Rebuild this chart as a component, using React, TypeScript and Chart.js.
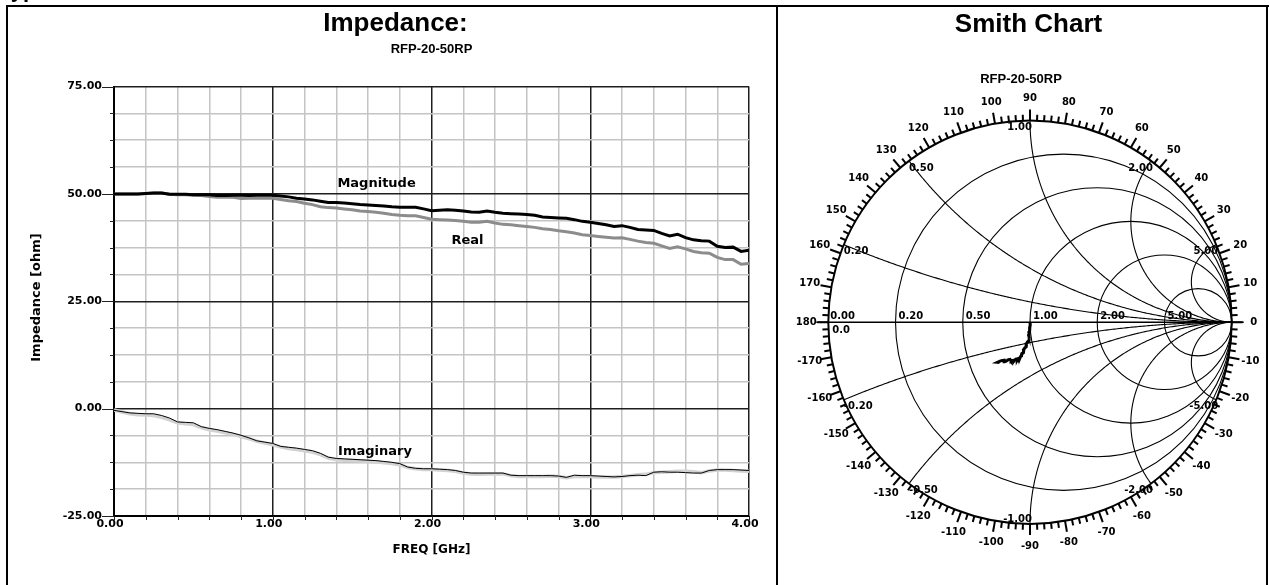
import React, { useEffect, useRef } from 'react';
import { Chart, registerables } from 'chart.js';

Chart.register(...registerables);

// ---------------- data ----------------
const freqGHz = [
  0.0, 0.05, 0.1, 0.15, 0.2, 0.25, 0.3, 0.35, 0.4, 0.45,
  0.5, 0.55, 0.6, 0.65, 0.7, 0.75, 0.8, 0.85, 0.9, 0.95,
  1.0, 1.05, 1.1, 1.15, 1.2, 1.25, 1.3, 1.35, 1.4, 1.45,
  1.5, 1.55, 1.6, 1.65, 1.7, 1.75, 1.8, 1.85, 1.9, 1.95,
  2.0, 2.05, 2.1, 2.15, 2.2, 2.25, 2.3, 2.35, 2.4, 2.45,
  2.5, 2.55, 2.6, 2.65, 2.7, 2.75, 2.8, 2.85, 2.9, 2.95,
  3.0, 3.05, 3.1, 3.15, 3.2, 3.25, 3.3, 3.35, 3.4, 3.45,
  3.5, 3.55, 3.6, 3.65, 3.7, 3.75, 3.8, 3.85, 3.9, 3.95,
  4.0,
];

const magnitudeOhm = [
  50.0, 50.0, 50.0, 50.0, 50.1, 50.2, 50.2, 49.9, 49.9, 49.9,
  49.8, 49.8, 49.8, 49.6, 49.6, 49.7, 49.7, 49.6, 49.7, 49.7,
  49.7, 49.5, 49.3, 49.0, 48.8, 48.6, 48.3, 48.0, 48.0, 47.9,
  47.7, 47.5, 47.4, 47.3, 47.2, 47.0, 46.9, 46.9, 46.9, 46.5,
  46.1, 46.2, 46.3, 46.2, 46.0, 45.8, 45.7, 46.0, 45.7, 45.5,
  45.4, 45.3, 45.2, 45.0, 44.6, 44.5, 44.4, 44.3, 44.0, 43.6,
  43.4, 43.1, 42.8, 42.4, 42.6, 42.2, 41.7, 41.6, 41.5, 40.8,
  40.2, 40.6, 39.8, 39.3, 39.1, 39.0, 37.8, 37.5, 37.6, 36.6,
  36.9,
];

const realOhm = [
  50.0, 50.0, 50.0, 50.0, 50.1, 50.2, 50.2, 49.9, 49.8, 49.8,
  49.7, 49.6, 49.4, 49.2, 49.3, 49.2, 48.9, 49.0, 49.0, 49.0,
  49.0, 48.7, 48.4, 48.2, 47.8, 47.5, 47.0, 46.8, 46.7, 46.5,
  46.3, 46.0, 45.9, 45.7, 45.5, 45.2, 45.0, 44.9, 44.9, 44.5,
  44.1, 44.0, 43.9, 43.8, 43.6, 43.4, 43.4, 43.6, 43.2, 42.9,
  42.8, 42.6, 42.4, 42.2, 41.9, 41.7, 41.4, 41.2, 40.9, 40.5,
  40.3, 40.1, 39.9, 39.7, 39.8, 39.4, 39.0, 38.7, 38.5, 37.9,
  37.3, 37.7, 37.2, 36.6, 36.3, 36.2, 35.2, 34.7, 34.7, 33.6,
  33.8,
];

const imagOhm = [
  -0.4, -0.7, -1.0, -1.1, -1.2, -1.2, -1.6, -2.2, -3.1, -3.2,
  -3.3, -4.2, -4.6, -4.9, -5.3, -5.7, -6.2, -6.8, -7.5, -7.8,
  -8.1, -8.8, -9.0, -9.2, -9.5, -9.8, -10.4, -11.3, -11.6, -11.7,
  -11.8, -11.9, -12.0, -12.1, -12.3, -12.5, -12.8, -13.6, -13.9, -14.0,
  -14.0, -14.1, -14.2, -14.4, -14.8, -15.0, -15.0, -15.0, -15.0, -15.0,
  -15.5, -15.6, -15.6, -15.6, -15.6, -15.6, -15.7, -16.0, -15.5, -15.6,
  -15.6, -15.7, -15.8, -15.9, -15.8, -15.6, -15.5, -15.6, -14.8, -14.7,
  -14.8, -14.8, -14.9, -15.0, -15.0, -14.4, -14.2, -14.2, -14.2, -14.3,
  -14.4,
];

const imagModelOhm = [
  -0.3, -0.8, -1.2, -1.4, -1.5, -1.6, -2.0, -2.6, -3.3, -3.5,
  -3.7, -4.4, -4.9, -5.2, -5.6, -6.0, -6.5, -7.0, -7.6, -8.0,
  -8.4, -8.9, -9.3, -9.5, -9.8, -10.1, -10.7, -11.5, -11.9, -12.0,
  -12.1, -12.2, -12.3, -12.4, -12.6, -12.8, -13.1, -13.7, -14.0, -14.2,
  -14.2, -14.3, -14.4, -14.6, -15.0, -15.2, -15.3, -15.2, -15.2, -15.2,
  -15.6, -15.8, -15.8, -15.8, -15.8, -15.7, -15.8, -16.1, -15.8, -15.8,
  -15.8, -15.9, -15.9, -15.9, -15.8, -15.6, -15.4, -15.3, -14.9, -14.8,
  -14.7, -14.6, -14.6, -14.7, -14.9, -14.5, -14.3, -14.3, -14.4, -14.5,
  -14.6,
];

const xMajorTicksGHz = [0, 1, 2, 3, 4];
const yMajorTicksOhm = [-25, 0, 25, 50, 75];

const annotationTexts = ['Magnitude', 'Real', 'Imaginary'];
const annotationFreqGHz = [1.654, 2.227, 1.644];
const annotationOhm = [51.5, 38.4, -10.7];

const Z0 = 50;
const smithResistance = [0.2, 0.5, 1, 2, 5];
const smithReactance = [0.2, 0.5, 1, 2, 5];
const smithAngleLabels = [
  0, 10, 20, 30, 40, 50, 60, 70, 80, 90, 100, 110, 120, 130, 140, 150, 160, 170, 180,
  -10, -20, -30, -40, -50, -60, -70, -80, -90, -100, -110, -120, -130, -140, -150, -160, -170,
];

// ---------------- styling ----------------
const ARIAL = '"Liberation Sans", Arial, sans-serif';
const DEJAVU = '"DejaVu Sans", sans-serif';
const MAJOR_GRID = '#1e1e1e';
const MINOR_GRID = '#c4c4c4';

const isMajor = (v: number, arr: number[]) => arr.some((m) => Math.abs(m - v) < 1e-6);

const pts = (vals: number[]) => freqGHz.map((f, i) => ({ x: f, y: vals[i] }));

const smithTrace = freqGHz.map((_, i) => {
  const r = realOhm[i] / Z0;
  const x = imagOhm[i] / Z0;
  const d = (r + 1) * (r + 1) + x * x;
  return { x: (r * r - 1 + x * x) / d, y: (2 * x) / d };
});

function drawText(
  ctx: CanvasRenderingContext2D,
  str: string,
  x: number,
  y: number,
  font: string,
  align: CanvasTextAlign = 'center',
  baseline: CanvasTextBaseline = 'alphabetic',
  rot = 0
) {
  ctx.save();
  ctx.font = font;
  ctx.fillStyle = '#000';
  ctx.textAlign = align;
  ctx.textBaseline = baseline;
  ctx.translate(x, y);
  if (rot) ctx.rotate(rot);
  ctx.fillText(str, 0, 0);
  ctx.restore();
}

const leftDecor = {
  id: 'leftDecor',
  beforeDraw(chart: any) {
    const ctx: CanvasRenderingContext2D = chart.ctx;
    ctx.save();
    ctx.fillStyle = '#fff';
    ctx.fillRect(0, 0, chart.width, chart.height);
    ctx.fillStyle = '#000';
    ctx.fillRect(6, 5, 2, 600);
    ctx.fillRect(6, 5, 1263, 2);
    ctx.fillRect(776, 5, 2, 600);
    ctx.fillRect(1266, 5, 2, 600);
    ctx.restore();
    drawText(ctx, 'Typical Performance Data', -1, -3, `bold 22px ${ARIAL}`, 'left');
    drawText(ctx, 'Impedance:', 395.5, 31, `bold 26px ${ARIAL}`);
  },
  afterDatasetsDraw(chart: any) {
    const ctx: CanvasRenderingContext2D = chart.ctx;
    const xs = chart.scales.x;
    const ys = chart.scales.y;
    annotationTexts.forEach((t, i) => {
      drawText(ctx, t, xs.getPixelForValue(annotationFreqGHz[i]), ys.getPixelForValue(annotationOhm[i]), `bold 13px ${DEJAVU}`);
    });
  },
  afterDraw(chart: any) {
    const ctx: CanvasRenderingContext2D = chart.ctx;
    const xs = chart.scales.x;
    const ys = chart.scales.y;
    const area = chart.chartArea;
    ctx.save();
    ctx.strokeStyle = '#222';
    ctx.lineWidth = 1;
    ys.ticks.forEach((t: any) => {
      const y = Math.round(ys.getPixelForValue(t.value)) + 0.5;
      const len = isMajor(t.value, yMajorTicksOhm) ? 12 : 4;
      ctx.beginPath();
      ctx.moveTo(area.left - len, y);
      ctx.lineTo(area.left, y);
      ctx.stroke();
    });
    xs.ticks.forEach((t: any) => {
      const x = Math.round(xs.getPixelForValue(t.value)) + 0.5;
      ctx.beginPath();
      ctx.moveTo(x, area.bottom);
      ctx.lineTo(x, area.bottom + 4);
      ctx.stroke();
    });
    ctx.restore();
    const cxp = (area.left + area.right) / 2;
    drawText(ctx, 'RFP-20-50RP', cxp, 52.7, `bold 13px ${ARIAL}`);
    drawText(ctx, 'FREQ [GHz]', cxp, 553, `bold 12px ${DEJAVU}`);
    drawText(ctx, 'Impedance [ohm]', 39.5, 297.5, `bold 13px ${DEJAVU}`, 'center', 'alphabetic', -Math.PI / 2);
  },
};

const smithGrid = {
  id: 'smithGrid',
  beforeDatasetsDraw(chart: any) {
    const ctx: CanvasRenderingContext2D = chart.ctx;
    const xs = chart.scales.x;
    const ys = chart.scales.y;
    const P = (gx: number, gy: number) => [xs.getPixelForValue(gx), ys.getPixelForValue(gy)];
    const [cx, cy] = P(0, 0);
    const R = xs.getPixelForValue(1) - cx;
    ctx.save();
    ctx.strokeStyle = '#000';
    ctx.fillStyle = '#000';
    ctx.lineWidth = 1.1;
    smithResistance.forEach((r) => {
      const [ccx] = P(r / (1 + r), 0);
      ctx.beginPath();
      ctx.arc(ccx, cy, R / (1 + r), 0, Math.PI * 2);
      ctx.stroke();
    });
    smithReactance.forEach((xv) =>
      [1, -1].forEach((sg) => {
        const rad = 1 / xv;
        const px0 = (xv * xv - 1) / (xv * xv + 1);
        const py0 = (2 * xv) / (xv * xv + 1);
        let a0 = Math.atan2(py0 - rad, px0 - 1);
        if (a0 < 0) a0 += 2 * Math.PI;
        const a1 = 1.5 * Math.PI;
        ctx.beginPath();
        for (let k = 0; k <= 240; k++) {
          const t = a0 + ((a1 - a0) * k) / 240;
          const [X, Y] = P(1 + rad * Math.cos(t), sg * (rad + rad * Math.sin(t)));
          if (k === 0) ctx.moveTo(X, Y);
          else ctx.lineTo(X, Y);
        }
        ctx.stroke();
      })
    );
    ctx.lineWidth = 1.5;
    ctx.beginPath();
    ctx.moveTo(cx - R - 12, cy);
    ctx.lineTo(cx + R + 12, cy);
    ctx.stroke();
    ctx.lineWidth = 2;
    ctx.beginPath();
    ctx.arc(cx, cy, R, 0, Math.PI * 2);
    ctx.stroke();
    ctx.lineWidth = 2;
    for (let d = -178; d <= 180; d += 2) {
      const len = d % 10 === 0 ? 11 : 6;
      const a = (d * Math.PI) / 180;
      ctx.beginPath();
      ctx.moveTo(cx + R * Math.cos(a), cy - R * Math.sin(a));
      ctx.lineTo(cx + (R + len) * Math.cos(a), cy - (R + len) * Math.sin(a));
      ctx.stroke();
    }
    ctx.restore();

    const f10 = `bold 10px ${DEJAVU}`;
    smithAngleLabels.forEach((deg) => {
      const a = (deg * Math.PI) / 180;
      const rr = R + 22;
      drawText(ctx, String(deg), cx + rr * Math.cos(a), cy - rr * Math.sin(a), f10, 'center', 'middle');
    });
    smithResistance.forEach((r) => {
      const [lx] = P((r - 1) / (r + 1), 0);
      drawText(ctx, r.toFixed(2), lx + 3, cy - 3, f10, 'left');
    });
    drawText(ctx, '0.00', cx - R + 2, cy - 3, f10, 'left');
    drawText(ctx, '0.0', cx - R + 4, cy + 10.5, f10, 'left');
    smithReactance.forEach((xv) =>
      [1, -1].forEach((sg) => {
        const gx = (xv * xv - 1) / (xv * xv + 1);
        const gy = (sg * 2 * xv) / (xv * xv + 1);
        const [X, Y] = P(gx, gy);
        const label = (sg * xv).toFixed(2);
        const align: CanvasTextAlign = gx < -0.01 ? 'left' : 'right';
        const tx = gx < -0.01 ? X : X + 2;
        if (gy < -0.99) drawText(ctx, label, tx, Y - 2, f10, align, 'alphabetic');
        else drawText(ctx, label, tx, Y + 2, f10, align, 'top');
      })
    );
  },
  afterDraw(chart: any) {
    const ctx: CanvasRenderingContext2D = chart.ctx;
    drawText(ctx, 'Smith Chart', 1028.5, 31.5, `bold 26px ${ARIAL}`);
    drawText(ctx, 'RFP-20-50RP', 1021, 83, `bold 13px ${ARIAL}`);
  },
};

export default function App() {
  const leftRef = useRef<HTMLCanvasElement>(null);
  const rightRef = useRef<HTMLCanvasElement>(null);

  useEffect(() => {
    document.body.style.margin = '0';
    document.body.style.overflow = 'hidden';
    const tickFont = { family: DEJAVU, size: 11, weight: 'bold' as const };
    const left = new Chart(leftRef.current as HTMLCanvasElement, {
      type: 'line',
      data: {
        datasets: [
          { label: 'Imaginary', data: pts(imagOhm), borderColor: '#000', borderWidth: 1 },
          { label: 'Imaginary (model)', data: pts(imagModelOhm), borderColor: '#d2d2d2', borderWidth: 3.5 },
          { label: 'Magnitude', data: pts(magnitudeOhm), borderColor: '#000', borderWidth: 3 },
          { label: 'Real', data: pts(realOhm), borderColor: '#8c8c8c', borderWidth: 3 },
        ],
      },
      options: {
        responsive: false,
        animation: false,
        events: [],
        layout: { padding: { left: 0, top: 86.5, right: 521, bottom: 0 } },
        elements: { point: { radius: 0 }, line: { tension: 0 } },
        plugins: { legend: { display: false }, tooltip: { enabled: false } },
        scales: {
          x: {
            type: 'linear',
            min: 0,
            max: 4,
            afterFit: (s: any) => {
              s.height = 69;
            },
            ticks: {
              stepSize: 0.2,
              autoSkip: false,
              maxRotation: 0,
              padding: 2,
              labelOffset: -4,
              color: '#000',
              font: tickFont,
              callback: (v: any) => (isMajor(Number(v), xMajorTicksGHz) ? Number(v).toFixed(2) : ''),
            },
            grid: {
              color: (c: any) => (isMajor(c.tick ? c.tick.value : 0, xMajorTicksGHz) ? MAJOR_GRID : MINOR_GRID),
              lineWidth: 1.5,
              drawTicks: false,
            },
            border: { display: true, color: '#000', width: 2 },
          },
          y: {
            type: 'linear',
            min: -25,
            max: 75,
            afterFit: (s: any) => {
              s.width = 114;
            },
            ticks: {
              stepSize: 6.25,
              autoSkip: false,
              padding: 12,
              color: '#000',
              font: tickFont,
              callback: (v: any) => (isMajor(Number(v), yMajorTicksOhm) ? Number(v).toFixed(2) : ''),
            },
            grid: {
              color: (c: any) => (isMajor(c.tick ? c.tick.value : 0, yMajorTicksOhm) ? MAJOR_GRID : MINOR_GRID),
              lineWidth: 1.5,
              drawTicks: false,
            },
            border: { display: true, color: '#000', width: 2 },
          },
        },
      },
      plugins: [leftDecor],
    } as any);

    const right = new Chart(rightRef.current as HTMLCanvasElement, {
      type: 'scatter',
      data: {
        datasets: [
          {
            label: 'S11',
            data: smithTrace,
            showLine: true,
            borderColor: '#000',
            borderWidth: 3,
            pointRadius: 0,
          },
        ],
      },
      options: {
        responsive: false,
        animation: false,
        events: [],
        layout: { padding: { left: 828.3, right: 38.3, top: 120.6, bottom: 61.1 } },
        plugins: { legend: { display: false }, tooltip: { enabled: false } },
        scales: {
          x: { type: 'linear', min: -1, max: 1, display: false },
          y: { type: 'linear', min: -1, max: 1, display: false },
        },
      },
      plugins: [smithGrid],
    } as any);

    return () => {
      left.destroy();
      right.destroy();
    };
  }, []);

  return (
    <div style={{ position: 'absolute', left: 0, top: 0, width: 1270, height: 585, overflow: 'hidden', background: '#fff' }}>
      <canvas ref={leftRef} width={1270} height={585} style={{ position: 'absolute', left: 0, top: 0 }} />
      <canvas ref={rightRef} width={1270} height={585} style={{ position: 'absolute', left: 0, top: 0 }} />
    </div>
  );
}
